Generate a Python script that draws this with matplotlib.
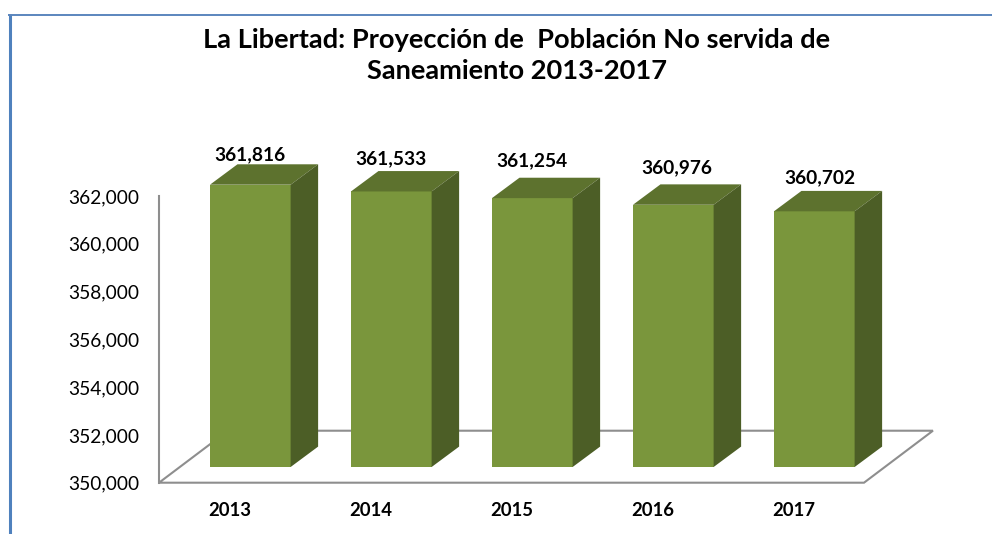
import numpy as np
import matplotlib
matplotlib.use('Agg')
import matplotlib.pyplot as plt
from matplotlib.lines import Line2D
from matplotlib.patches import Polygon

years = ['2013', '2014', '2015', '2016', '2017']
poblacion = [361816, 361533, 361254, 360976, 360702]
y_ticks = [350000, 352000, 354000, 356000, 358000, 360000, 362000]
title = 'La Libertad: Proyección de  Población No servida de\nSaneamiento 2013-2017'

# manual placement of the value labels (pixels from the bar top centre)
label_dx = [0, 0, 0, 3, 6]
label_dy = [30, 33, 37, 37, 34]

plt.rcParams['font.family'] = ['Lato', 'DejaVu Sans']

W, H = 992, 534
fig = plt.figure(figsize=(W / 100, H / 100), dpi=100)
ax = fig.add_axes([159 / W, (H - 482.7) / H, 705 / W, 286.7 / H])
ax.set_xlim(-0.5, 4.5)
ax.set_ylim(350000, 362000)

# 3D look: depth of floor, front offset of the bars, depth of the bars
floor_dx, floor_dy = 0.489, 2176
front_dx, front_dy = 0.1475, 657
depth_dx, depth_dy = 0.195, 854
bar_w = 0.572

base = y_ticks[0]
x0, x1 = ax.get_xlim()

line_color = '#8E8E8E'
floor = Polygon([(x0, base), (x1, base), (x1 + floor_dx, base + floor_dy), (x0 + floor_dx, base + floor_dy)],
                closed=True, facecolor='white', edgecolor=line_color, linewidth=1.5, clip_on=False, zorder=1)
ax.add_patch(floor)

x = np.arange(len(years))
vals = np.array(poblacion)

for i in range(len(vals)):
    left = x[i] + front_dx - bar_w / 2
    right = left + bar_w
    bottom = base + front_dy
    top = vals[i] + front_dy
    # front
    ax.bar(left + bar_w / 2, top - bottom, width=bar_w, bottom=bottom, color='#7A963C', clip_on=False, zorder=3)
    # top
    ax.add_patch(Polygon([(left, top), (right, top), (right + depth_dx, top + depth_dy), (left + depth_dx, top + depth_dy)],
                         closed=True, facecolor='#5D722E', edgecolor='none', clip_on=False, zorder=3))
    # side
    ax.add_patch(Polygon([(right, bottom), (right + depth_dx, bottom + depth_dy), (right + depth_dx, top + depth_dy), (right, top)],
                         closed=True, facecolor='#4C5E26', edgecolor='none', clip_on=False, zorder=3))
    ax.annotate(f'{vals[i]:,}', xy=(left + bar_w / 2, top), xytext=(label_dx[i], label_dy[i]),
                textcoords='offset pixels', ha='center', va='center',
                fontsize=13.8, fontweight='bold', color='black', annotation_clip=False, zorder=4)

for s in ['top', 'right']:
    ax.spines[s].set_visible(False)
ax.spines['left'].set_color(line_color)
ax.spines['left'].set_linewidth(1.5)
ax.spines['bottom'].set_visible(False)
ax.patch.set_alpha(0)

ax.set_yticks(y_ticks)
ax.set_yticklabels([f'{t:,}' for t in y_ticks], fontsize=13.8, color='black')
ax.set_xticks(x)
ax.set_xticklabels(years, fontsize=13.3, fontweight='bold', color='black')
ax.tick_params(axis='y', length=0, pad=14)
ax.tick_params(axis='x', length=0, pad=14)

fig.text(517 / W, 1 - 55.5 / H, title, ha='center', va='center', fontsize=19.6, fontweight='bold',
         linespacing=1.37, color='black')

# blue frame of the page
fig.add_artist(Line2D([9.5 / W, 9.5 / W], [0, 1 - 13.5 / H], color='#4F81BD', linewidth=2.2, solid_capstyle='butt'))
fig.add_artist(Line2D([8 / W, 1], [1 - 14.5 / H, 1 - 14.5 / H], color='#5B86BE', linewidth=1.4, solid_capstyle='butt'))

fig.savefig('out.png', dpi=100)
